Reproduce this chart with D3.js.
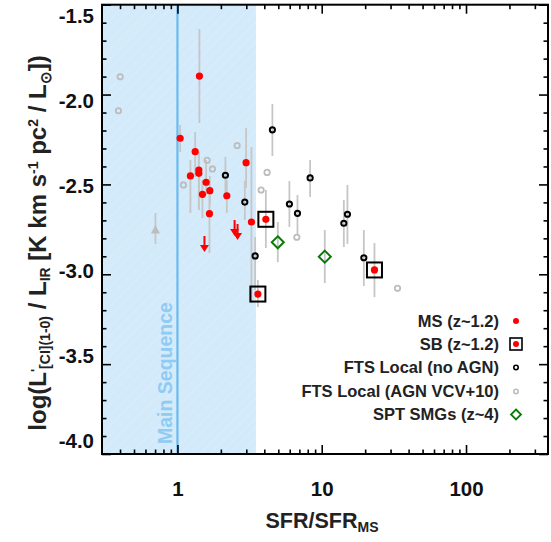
<!DOCTYPE html>
<html><head><meta charset="utf-8">
<script src="https://cdn.jsdelivr.net/npm/d3@7"></script>
<style>
body{margin:0;background:#fff}
svg{display:block}
text{font-family:"Liberation Sans",Arial,Helvetica,sans-serif;font-weight:bold}
</style></head>
<body><svg id="c" width="551" height="542"></svg>
<script>
// ---------------- data ----------------
// MS (z~1.2) detections
const msX   = [1.42, 1.044, 1.327, 2.99, 1.407, 1.407, 1.23, 1.58, 1.677, 1.49, 2.199, 1.667, 3.257];
const msY   = [-1.897, -2.243, -2.318, -2.379, -2.420, -2.438, -2.453, -2.488, -2.535, -2.555, -2.563, -2.663, -2.709];
const msHi  = [-1.635, -2.169, -2.208, -2.186, -2.320, -2.320, -2.364, -2.364, -2.453, -2.475, -2.475, -2.559, -2.292];
const msLo  = [-2.158, -2.320, -2.459, -2.520, -2.643, -2.643, -2.659, -2.559, -2.615, -2.687, -2.659, -2.882, -3.160];
// MS upper limits
const ulX   = [1.539, 2.49, 2.61];
const ulY   = [-2.787, -2.698, -2.720];
// SB (z~1.2)
const sbX   = [4.10, 3.61, 23.2];
const sbY   = [-2.694, -3.110, -2.976];
const sbHi  = [-2.531, -3.032, -2.826];
const sbLo  = [-2.854, -3.182, -3.127];
// SPT SMGs (z~4)
const sptX  = [4.96, 10.5];
const sptY  = [-2.822, -2.902];
const sptHi = [-2.709, -2.754];
const sptLo = [-2.932, -3.049];
// FTS Local (no AGN)
const ftsX  = [4.55, 2.15, 8.31, 2.93, 5.97, 6.79, 15.07, 14.23, 3.456, 19.58];
const ftsY  = [-2.196, -2.449, -2.464, -2.598, -2.609, -2.661, -2.666, -2.716, -2.898, -2.908];
const ftsHi = [-2.053, -2.348, -2.364, -2.481, -2.481, -2.559, -2.503, -2.587, -2.793, -2.754];
const ftsLo = [-2.342, -2.587, -2.570, -2.698, -2.737, -2.782, -2.832, -2.848, -3.088, -3.065];
// FTS Local (AGN VCV+10)
const agnX  = [0.401, 0.390, 2.593, 1.606, 1.748, 4.18, 1.10, 3.80, 6.72, 33.5];
const agnY  = [-1.901, -2.090, -2.284, -2.366, -2.414, -2.433, -2.503, -2.531, -2.794, -3.078];
// stacked (grey triangle)
const triX  = [0.704];
const triY  = [-2.754];
const triHi = [-2.659];
const triLo = [-2.832];
// main sequence band
const msBand = [0.3, 3.5];
const msLine = 1;
// axes
const xMajor = [1, 10, 100];
const xMinor = [0.4,0.5,0.6,0.7,0.8,0.9,2,3,4,5,6,7,8,9,20,30,40,50,60,70,80,90,200,300];
const yMajor = [-4.0, -3.5, -3.0, -2.5, -2.0, -1.5];
const yMinor = d3.range(-40, -14, 1).map(v => v/10).filter(v => Math.abs(v*2 - Math.round(v*2)) > 1e-6);
const legendLabels = ["MS (z~1.2)", "SB (z~1.2)", "FTS Local (no AGN)", "FTS Local (AGN VCV+10)", "SPT SMGs (z~4)"];

// ---------------- layout ----------------
const L = 102, R = 548, T = 4.7, B = 454;
const x = d3.scaleLog().domain([0.3, 370]).range([L, R]);
const y = d3.scaleLinear().domain([-4.0, -1.5]).range([B, T]);
const yLab = d3.scaleLinear().domain([-4.0, -1.5]).range([441, 16]);
const fmtY = d => d.toFixed(1);   // plain hyphen minus

const svg = d3.select("#c");
const defs = svg.append("defs");
const pat = defs.append("pattern").attr("id","hatch").attr("patternUnits","userSpaceOnUse")
  .attr("width",7).attr("height",7).attr("patternTransform","rotate(45)");
pat.append("rect").attr("width",7).attr("height",7).attr("fill","#d3eafb");
pat.append("line").attr("x1",0).attr("y1",0).attr("x2",0).attr("y2",7).attr("stroke","#dcefFC").attr("stroke-width",1.5);

defs.append("clipPath").attr("id","clip").append("rect").attr("x",L).attr("y",T).attr("width",R-L).attr("height",B-T);

const plot = svg.append("g").attr("clip-path","url(#clip)");
plot.append("rect").attr("x", x(msBand[0])).attr("y", T).attr("width", x(msBand[1]) - x(msBand[0]))
  .attr("height", B - T).attr("fill", "url(#hatch)");
plot.append("line").attr("x1", x(msLine)).attr("x2", x(msLine)).attr("y1", T).attr("y2", B)
  .attr("stroke", "#6cb9ef").attr("stroke-width", 2.2);
svg.append("text").attr("transform", `translate(172,${B-10}) rotate(-90)`)
  .attr("fill", "#8fcbf3").style("font-size","19.5px").text("Main Sequence");

// error bars
const errCol = "#c6c6c6";
function errbars(xs, ys1, ys2){
  plot.append("g").selectAll("line").data(xs).join("line")
    .attr("x1", d => x(d)).attr("x2", d => x(d))
    .attr("y1", (d,i) => y(ys1[i])).attr("y2", (d,i) => y(ys2[i]))
    .attr("stroke", errCol).attr("stroke-width", 1.8);
}
errbars(msX, msHi, msLo);
errbars(sbX, sbHi, sbLo);
errbars(sptX, sptHi, sptLo);
errbars(ftsX, ftsHi, ftsLo);
errbars(triX, triHi, triLo);

// grey triangle
plot.append("g").selectAll("path").data(triX).join("path")
  .attr("transform", (d,i) => `translate(${x(d)},${y(triY[i])})`)
  .attr("d", "M0,-5L4.5,3.5L-4.5,3.5Z").attr("fill", "#bdbdbd");

// AGN grey circles
plot.append("g").selectAll("circle").data(agnX).join("circle")
  .attr("cx", d => x(d)).attr("cy", (d,i) => y(agnY[i])).attr("r", 2.7)
  .attr("fill", "none").attr("stroke", "#bdbdbd").attr("stroke-width", 1.8);

// FTS black circles
plot.append("g").selectAll("circle").data(ftsX).join("circle")
  .attr("cx", d => x(d)).attr("cy", (d,i) => y(ftsY[i])).attr("r", 2.6)
  .attr("fill", "none").attr("stroke", "#000").attr("stroke-width", 2);

// SPT diamonds
plot.append("g").selectAll("path").data(sptX).join("path")
  .attr("transform", (d,i) => `translate(${x(d)},${y(sptY[i])})`)
  .attr("d", "M0,-6L6,0L0,6L-6,0Z").attr("fill", "none").attr("stroke", "#087a08").attr("stroke-width", 2);

// MS red dots
plot.append("g").selectAll("circle").data(msX).join("circle")
  .attr("cx", d => x(d)).attr("cy", (d,i) => y(msY[i])).attr("r", 3.6).attr("fill", "#ff0000");

// upper limit arrows
const ul = plot.append("g").selectAll("g").data(ulX).join("g")
  .attr("transform", (d,i) => `translate(${x(d)},${y(ulY[i])})`);
ul.append("line").attr("x1",0).attr("x2",0).attr("y1",0).attr("y2",10).attr("stroke","#ff0000").attr("stroke-width",2);
ul.append("path").attr("d","M-4.5,9L4.5,9L0,16Z").attr("fill","#ff0000");

// SB boxes
const sb = plot.append("g").selectAll("g").data(sbX).join("g")
  .attr("transform", (d,i) => `translate(${x(d)},${y(sbY[i])})`);
sb.append("rect").attr("x",-7.5).attr("y",-7.5).attr("width",15).attr("height",15)
  .attr("fill","none").attr("stroke","#000").attr("stroke-width",2);
sb.append("circle").attr("r",3.6).attr("fill","#ff0000");

// ---------------- axes ----------------
function styleAxis(g){ g.select(".domain").remove(); g.selectAll("line").attr("stroke","#000").attr("stroke-width",1.6); }
function styleText(g){ g.selectAll(".tick text").attr("fill","#111").style("font-size","20.5px")
  .style("font-family","'Liberation Sans',Arial,sans-serif").style("font-weight","bold"); }
svg.append("g").attr("transform",`translate(0,${B})`)
  .call(d3.axisBottom(x).tickValues(xMajor).tickSize(-9).tickPadding(27).tickFormat(d3.format("d")))
  .call(styleAxis).call(styleText);
svg.append("g").attr("transform",`translate(0,${B})`)
  .call(d3.axisBottom(x).tickValues(xMinor).tickSize(-4.5).tickFormat("")).call(styleAxis);
svg.append("g").attr("transform",`translate(0,${T})`)
  .call(d3.axisTop(x).tickValues(xMajor).tickSize(-9).tickFormat("")).call(styleAxis);
svg.append("g").attr("transform",`translate(0,${T})`)
  .call(d3.axisTop(x).tickValues(xMinor).tickSize(-4.5).tickFormat("")).call(styleAxis);

svg.append("g").attr("transform",`translate(${L},0)`)
  .call(d3.axisLeft(y).tickValues(yMajor).tickSize(-9).tickPadding(8).tickFormat(fmtY))
  .call(styleAxis).call(styleText)
  .call(g => g.selectAll(".tick text").attr("y", d => yLab(d) - y(d)));
svg.append("g").attr("transform",`translate(${L},0)`)
  .call(d3.axisLeft(y).tickValues(yMinor).tickSize(-4.5).tickFormat("")).call(styleAxis);
svg.append("g").attr("transform",`translate(${R},0)`)
  .call(d3.axisRight(y).tickValues(yMajor).tickSize(-9).tickFormat("")).call(styleAxis);
svg.append("g").attr("transform",`translate(${R},0)`)
  .call(d3.axisRight(y).tickValues(yMinor).tickSize(-4.5).tickFormat("")).call(styleAxis);

svg.append("rect").attr("x",L).attr("y",T).attr("width",R-L).attr("height",B-T)
  .attr("fill","none").attr("stroke","#000").attr("stroke-width",2);

// axis titles
const xt = svg.append("text").attr("x", 322).attr("y", 528).attr("text-anchor","middle").style("font-size","21.5px").attr("fill","#222");
xt.append("tspan").text("SFR/SFR");
xt.append("tspan").attr("baseline-shift","-30%").style("font-size","14px").text("MS");

const yt = svg.append("text").attr("transform","translate(46,243) rotate(-90)").attr("text-anchor","middle")
  .style("font-size","24px").attr("fill","#222");
yt.append("tspan").text("log(L");
yt.append("tspan").attr("baseline-shift","45%").style("font-size","13px").text("'");
yt.append("tspan").attr("baseline-shift","-30%").style("font-size","14px").text("[CI](1-0)");
yt.append("tspan").text(" / L");
yt.append("tspan").attr("baseline-shift","-30%").style("font-size","14px").text("IR");
yt.append("tspan").text("  [K km s");
yt.append("tspan").attr("baseline-shift","55%").style("font-size","14px").text("-1");
yt.append("tspan").text(" pc");
yt.append("tspan").attr("baseline-shift","55%").style("font-size","14px").text("2");
yt.append("tspan").text(" / L");
yt.append("tspan").attr("baseline-shift","-30%").style("font-size","15px").text("⊙");
yt.append("tspan").text("])");

// ---------------- legend ----------------
const legY = [327, 350, 373, 397, 420];
const lg = svg.append("g");
lg.selectAll("text").data(legendLabels).join("text")
  .attr("x", 499).attr("y", (d,i) => legY[i]).attr("text-anchor","end")
  .style("font-size","16.5px").attr("fill","#222").text(d => d);
const sx = 516;
lg.append("circle").attr("cx",sx).attr("cy",legY[0]-6).attr("r",3).attr("fill","#ff0000");
lg.append("rect").attr("x",sx-6).attr("y",legY[1]-12).attr("width",12).attr("height",12).attr("fill","none").attr("stroke","#000").attr("stroke-width",1.6);
lg.append("circle").attr("cx",sx).attr("cy",legY[1]-6).attr("r",3).attr("fill","#ff0000");
lg.append("circle").attr("cx",sx).attr("cy",legY[2]-5.5).attr("r",2.2).attr("fill","none").attr("stroke","#000").attr("stroke-width",1.6);
lg.append("circle").attr("cx",sx).attr("cy",legY[3]-5.5).attr("r",2.2).attr("fill","none").attr("stroke","#bdbdbd").attr("stroke-width",1.6);
lg.append("path").attr("transform",`translate(${sx},${legY[4]-5.5})`).attr("d","M0,-5L5,0L0,5L-5,0Z")
  .attr("fill","none").attr("stroke","#087a08").attr("stroke-width",1.8);
</script></body></html>
